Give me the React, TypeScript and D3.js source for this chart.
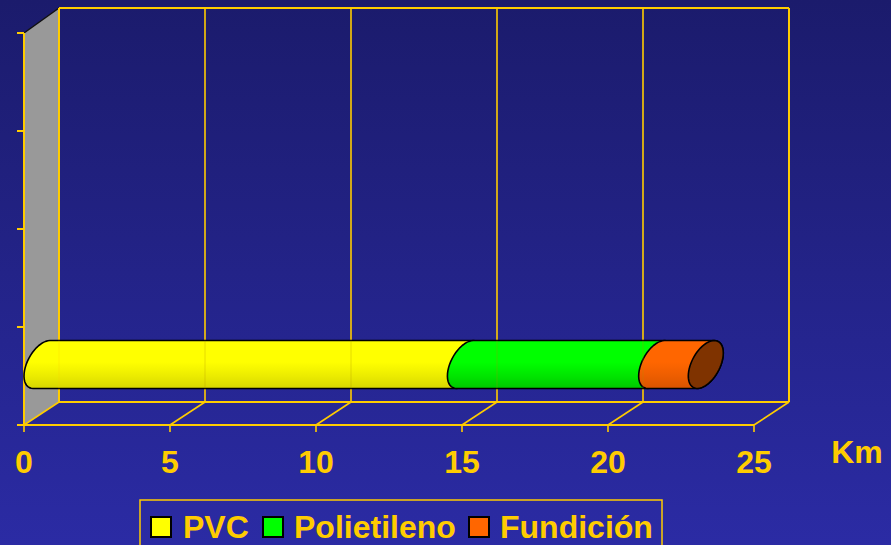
import React from "react";
import * as d3 from "d3";

// chart data
const series = ["PVC", "Polietileno", "Fundición"];
const lengths = [14.5, 6.55, 1.7]; // km of pipe, one bar
const seriesColors = ["#ffff00", "#00ff00", "#ff6600"];
const shadeColors = ["#d6d600", "#00c800", "#d85400"];
const categories = ["c1", "c2", "c3", "red"]; // only the bottom slot holds a bar
const xTicks = [0, 5, 10, 15, 20, 25];

const W = 891;
const H = 545;
const gold = "#ffcc00";
const font = "'Liberation Sans', Arial, sans-serif";

// 3d depth offset of the plot box
const depth = { dx: 35, dy: -23 };

export default function App() {
  const x = d3.scaleLinear().domain([0, 25]).range([24, 754]);
  const y = d3.scaleBand().domain(categories).range([33, 425]).padding(0);
  const yTop = 33;
  const yFloor = 425;

  // cylinder geometry
  const u = depth.dx / 2;
  const v = depth.dy / 2;
  const r = 21;
  const cy = y("red")! + y.bandwidth() / 2 + v;
  const tTop = Math.atan2(-v, r);

  const pt = (val: number, t: number): [number, number] => [
    x(val) + u + u * Math.sin(t),
    cy - r * Math.cos(t) + v * Math.sin(t),
  ];
  const arc = (val: number, t0: number, t1: number, n = 24) =>
    d3.range(n + 1).map((i) => pt(val, t0 + ((t1 - t0) * i) / n));

  const cum = d3.cumsum(lengths);
  const segs = lengths.map((len, i) => ({
    name: series[i],
    start: cum[i] - len,
    end: cum[i],
    i,
  }));

  const line = d3.line();
  const segPath = (s0: number, s1: number) => {
    const left = arc(s0, tTop - Math.PI, tTop);
    const right = arc(s1, tTop, tTop + Math.PI);
    return line([...left, ...right])! + "Z";
  };
  const total = cum[cum.length - 1];
  const capPath = line(arc(total, 0, Math.PI * 2, 60))! + "Z";

  const backX = (val: number) => x(val) + depth.dx;
  const backTop = yTop + depth.dy - 2;
  const backFloor = yFloor + depth.dy;

  const legendItems = [
    { x: 151, tx: 183 },
    { x: 263, tx: 294 },
    { x: 469, tx: 500 },
  ];

  return (
    <svg
      width={W}
      height={H}
      style={{ position: "fixed", left: 0, top: 0 }}
    >
      <defs>
        <linearGradient id="bg" x1="0" y1="0" x2="0" y2="1">
          <stop offset="0" stopColor="#1b1b6c" />
          <stop offset="1" stopColor="#2b2ba4" />
        </linearGradient>
        {series.map((s, i) => (
          <linearGradient
            key={s}
            id={`cyl${i}`}
            gradientUnits="userSpaceOnUse"
            x1="0"
            x2="0"
            y1={cy - 24}
            y2={cy + 24}
          >
            <stop offset="0" stopColor={seriesColors[i]} />
            <stop offset="0.45" stopColor={seriesColors[i]} />
            <stop offset="0.75" stopColor={d3.interpolateRgb(seriesColors[i], shadeColors[i])(0.5)} />
            <stop offset="1" stopColor={shadeColors[i]} />
          </linearGradient>
        ))}
      </defs>
      <rect width={W} height={H} fill="url(#bg)" />

      {/* left side wall */}
      <path
        d={`M24,${yTop}L59,${backTop}L59,${backFloor}L24,${yFloor}Z`}
        fill="#999999"
      />
      <line x1={24} y1={yTop} x2={59} y2={backTop} stroke="#111" strokeWidth={1.5} />

      {/* back wall */}
      <line x1={59} y1={backTop} x2={backX(25)} y2={backTop} stroke={gold} strokeWidth={2} />
      {xTicks.map((t) => (
        <line
          key={"g" + t}
          x1={backX(t)}
          x2={backX(t)}
          y1={backTop}
          y2={backFloor}
          stroke={gold}
          strokeWidth={t === 0 || t === 25 ? 2 : 1.6}
        />
      ))}

      {/* floor */}
      <line x1={59} y1={backFloor} x2={backX(25)} y2={backFloor} stroke={gold} strokeWidth={2} />
      <line x1={17} y1={yFloor} x2={x(25)} y2={yFloor} stroke={gold} strokeWidth={2} />
      {xTicks.map((t) => (
        <g key={"f" + t}>
          <line x1={x(t)} y1={yFloor} x2={backX(t)} y2={backFloor} stroke={gold} strokeWidth={1.6} />
          <line x1={x(t)} y1={yFloor} x2={x(t)} y2={yFloor + 7} stroke={gold} strokeWidth={1.6} />
        </g>
      ))}

      {/* category axis */}
      <line x1={24} y1={yTop} x2={24} y2={yFloor} stroke={gold} strokeWidth={2} />
      {[...categories.map((c) => y(c)!), yFloor].map((ty, i) => (
        <line key={"t" + i} x1={17} x2={24} y1={ty} y2={ty} stroke={gold} strokeWidth={2} />
      ))}

      {/* cylinder */}
      {segs.map((s) => (
        <path
          key={s.name}
          d={segPath(s.start, s.end)}
          fill={`url(#cyl${s.i})`}
          stroke="#000"
          strokeWidth={1.6}
          strokeLinejoin="round"
        />
      ))}
      <path d={capPath} fill="#7f3300" stroke="#000" strokeWidth={1.6} />

      {/* faint grid seen through the cylinder */}
      {xTicks.slice(0, 5).map((t) => (
        <line
          key={"o" + t}
          x1={backX(t)}
          x2={backX(t)}
          y1={cy - 24}
          y2={cy + 24}
          stroke={t === 0 ? gold : "#b09000"}
          strokeWidth={1}
          opacity={0.3}
        />
      ))}

      {/* x tick labels */}
      {xTicks.map((t) => (
        <text
          key={"l" + t}
          x={x(t)}
          y={473}
          textAnchor="middle"
          fontFamily={font}
          fontWeight="bold"
          fontSize={32}
          fill={gold}
        >
          {t}
        </text>
      ))}
      <text x={857} y={463} textAnchor="middle" fontFamily={font} fontWeight="bold" fontSize={32} fill={gold}>
        Km
      </text>

      {/* legend */}
      <rect x={140} y={500} width={522} height={60} fill="none" stroke={gold} strokeWidth={1.5} />
      {series.map((s, i) => (
        <g key={"lg" + s}>
          <rect
            x={legendItems[i].x}
            y={517}
            width={20}
            height={20}
            fill={seriesColors[i]}
            stroke="#000"
            strokeWidth={2}
          />
          <text
            x={legendItems[i].tx}
            y={538}
            fontFamily={font}
            fontWeight="bold"
            fontSize={32}
            fill={gold}
          >
            {s}
          </text>
        </g>
      ))}
    </svg>
  );
}
